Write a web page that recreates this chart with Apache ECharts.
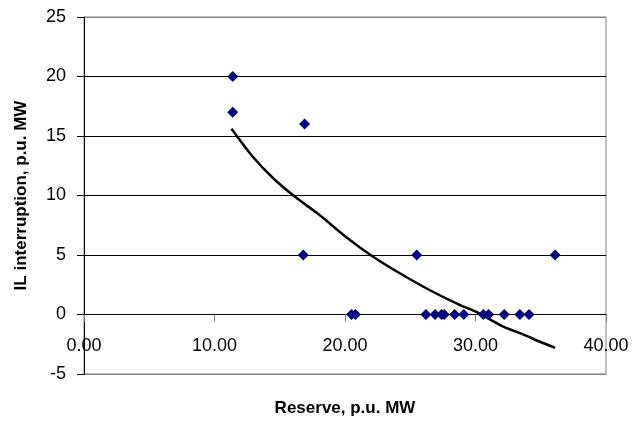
<!DOCTYPE html>
<html>
<head>
<meta charset="utf-8">
<script src="https://cdn.jsdelivr.net/npm/echarts@6/dist/echarts.min.js"></script>
<style>
html,body{margin:0;padding:0;background:#fff;}
#chart{width:634px;height:423px;}
</style>
</head>
<body>
<div id="chart"></div>
<script>
// Observed points: reserve (p.u. MW) and IL interruption (p.u. MW)
const reserveX = [11.4, 11.4, 16.9, 16.8, 25.5, 36.1, 20.5, 20.8, 26.2, 26.9, 27.4, 27.6, 28.4, 29.1, 30.6, 31.0, 32.2, 33.4, 34.1];
const interruptionY = [20, 17, 16, 5, 5, 5, 0, 0, 0, 0, 0, 0, 0, 0, 0, 0, 0, 0, 0];
// Trend line
const trendX = [11.3, 12.9, 14.5, 16.1, 18.0, 20.1, 22.1, 24.3, 26.4, 28.7, 30.1, 32.0, 33.6, 34.9, 36.1];
const trendY = [15.6, 13.3, 11.45, 9.95, 8.4, 6.5, 4.9, 3.4, 2.1, 0.85, 0.2, -0.95, -1.65, -2.27, -2.8];
// Axis ticks
const xTicks = [0, 10, 20, 30, 40];
const yTicks = [-5, 0, 5, 10, 15, 20, 25];

const font = 'Arial, "Liberation Sans", sans-serif';
const chart = echarts.init(document.getElementById('chart'));
chart.setOption({
  animation: false,
  backgroundColor: '#fff',
  grid: {
    left: 84, right: 28, top: 17, bottom: 49,
    outerBoundsMode: 'none',
    containLabel: false,
    show: true, borderColor: '#808080', borderWidth: 1
  },
  xAxis: {
    type: 'value',
    min: xTicks[0], max: xTicks[xTicks.length - 1], interval: 10,
    name: 'Reserve, p.u. MW',
    nameLocation: 'middle',
    nameGap: 26,
    nameTextStyle: { fontFamily: font, fontWeight: 'bold', fontSize: 17, color: '#000' },
    axisLine: { show: true, onZero: true, lineStyle: { color: '#000', width: 1 } },
    axisTick: { show: true, inside: false, length: 7, lineStyle: { color: '#808080' } },
    axisLabel: {
      margin: -37, fontFamily: font, fontSize: 18, color: '#000',
      formatter: v => v.toFixed(2)
    },
    splitLine: { show: false }
  },
  yAxis: {
    type: 'value',
    min: yTicks[0], max: yTicks[yTicks.length - 1], interval: 5,
    name: 'IL interruption, p.u. MW',
    nameLocation: 'middle',
    nameGap: 54,
    nameTextStyle: { fontFamily: font, fontWeight: 'bold', fontSize: 17, color: '#000' },
    axisLine: { show: true, onZero: false, lineStyle: { color: '#000', width: 1 } },
    axisTick: { show: true, length: 7, lineStyle: { color: '#000' } },
    axisLabel: { margin: 18, fontFamily: font, fontSize: 18, color: '#000' },
    splitLine: {
      show: true,
      lineStyle: { color: ['#808080', '#000', '#000', '#000', '#000', '#000', '#808080'], width: 1 }
    }
  },
  series: [
    {
      type: 'line',
      data: trendX.map((x, i) => [x, trendY[i]]),
      showSymbol: false,
      smooth: 0.3,
      lineStyle: { color: '#000', width: 2.5 },
      z: 3
    },
    {
      type: 'scatter',
      data: reserveX.map((x, i) => [x, interruptionY[i]]),
      symbol: 'diamond',
      symbolSize: 11,
      itemStyle: { color: '#000080', opacity: 1 },
      z: 4
    }
  ]
});
</script>
</body>
</html>
